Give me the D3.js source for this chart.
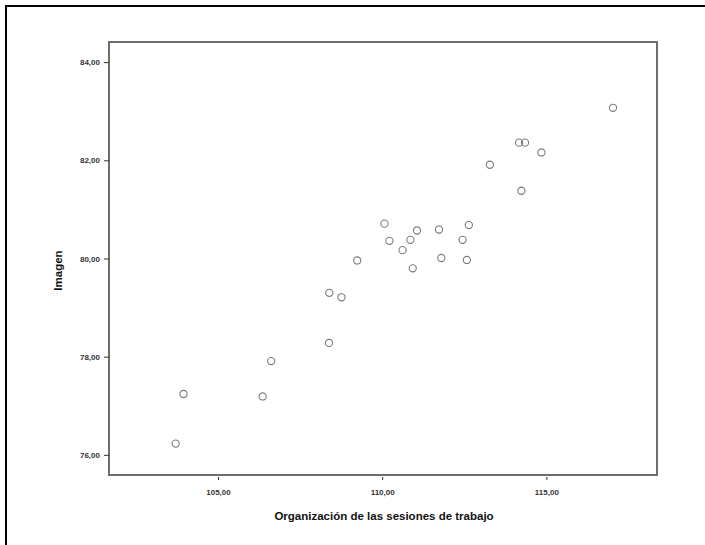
<!DOCTYPE html>
<html>
<head>
<meta charset="utf-8">
<script src="https://cdn.jsdelivr.net/npm/d3@7"></script>
<style>
  html, body { margin: 0; padding: 0; background: #fff; }
  svg { display: block; }
</style>
</head>
<body>
<svg id="chart" width="705" height="545"></svg>
<script>
// ---- data ----
const organizacion = [117.03, 114.17, 114.35, 114.85, 113.28, 114.24, 110.07, 112.64, 111.06, 111.73,
                      110.22, 110.86, 112.45, 110.62, 109.24, 111.80, 112.58, 110.93, 108.39, 108.76,
                      108.38, 106.62, 103.95, 106.36, 103.71];
const imagen       = [83.07, 82.36, 82.36, 82.16, 81.91, 81.38, 80.71, 80.68, 80.57, 80.59,
                      80.36, 80.38, 80.38, 80.17, 79.96, 80.01, 79.97, 79.80, 79.30, 79.21,
                      78.28, 77.91, 77.24, 77.19, 76.23];
const xTicks = [105, 110, 115];
const yTicks = [76, 78, 80, 82, 84];
const xTitle = "Organización de las sesiones de trabajo";
const yTitle = "Imagen";

(function () {
const svg = d3.select("#chart");
const mL = 109, mR = 657, mT = 42, mB = 475;

const x = d3.scaleLinear().domain([101.68, 118.37]).range([mL, mR]);
const y = d3.scaleLinear().domain([75.59, 84.41]).range([mB, mT]);

const fmt = v => d3.format(".2f")(v).replace(".", ",");

// outer image border (left/top only)
svg.append("line").attr("x1", 6).attr("y1", 5).attr("x2", 6).attr("y2", 545)
  .attr("stroke", "#000").attr("stroke-width", 2);
svg.append("line").attr("x1", 5).attr("y1", 6).attr("x2", 705).attr("y2", 6)
  .attr("stroke", "#000").attr("stroke-width", 2);

// plot frame
svg.append("rect")
  .attr("x", mL).attr("y", mT)
  .attr("width", mR - mL).attr("height", mB - mT)
  .attr("fill", "none").attr("stroke", "#6e6e6e").attr("stroke-width", 2);

// axes
const xAxis = d3.axisBottom(x).tickValues(xTicks).tickFormat(fmt).tickSize(5).tickSizeOuter(0);
const yAxis = d3.axisLeft(y).tickValues(yTicks).tickFormat(fmt).tickSize(5).tickSizeOuter(0);

const gx = svg.append("g").attr("transform", `translate(0,${mB})`).call(xAxis);
const gy = svg.append("g").attr("transform", `translate(${mL},0)`).call(yAxis);

[gx, gy].forEach(g => {
  g.select(".domain").remove();
  g.selectAll(".tick line").attr("stroke", "#333").attr("stroke-width", 1);
  g.selectAll(".tick text")
    .attr("fill", "#333")
    .style("font-family", "'Liberation Sans', Arial, sans-serif")
    .style("font-size", "8px")
    .style("font-weight", "bold");
});
gx.selectAll(".tick line").attr("y1", 2);
gx.selectAll(".tick text").attr("dy", "1.55em");
gy.selectAll(".tick text").attr("dx", "-1px");

// titles
svg.append("text")
  .attr("x", (mL + mR) / 2 + 1).attr("y", 520)
  .attr("text-anchor", "middle")
  .style("font-family", "'Liberation Sans', Arial, sans-serif")
  .style("font-size", "11.5px").style("font-weight", "bold")
  .attr("fill", "#111")
  .text(xTitle);

svg.append("text")
  .attr("transform", `translate(62,${(mT + mB) / 2 + 12}) rotate(-90)`)
  .attr("text-anchor", "middle")
  .style("font-family", "'Liberation Sans', Arial, sans-serif")
  .style("font-size", "11.5px").style("font-weight", "bold")
  .attr("fill", "#111")
  .text(yTitle);

// points
svg.append("g").selectAll("circle")
  .data(organizacion.map((v, i) => [v, imagen[i]]))
  .join("circle")
  .attr("cx", d => x(d[0]))
  .attr("cy", d => y(d[1]))
  .attr("r", 3.6)
  .attr("fill", "none")
  .attr("stroke", "#7a7a7a")
  .attr("stroke-width", 1.1);
})();
</script>
</body>
</html>
